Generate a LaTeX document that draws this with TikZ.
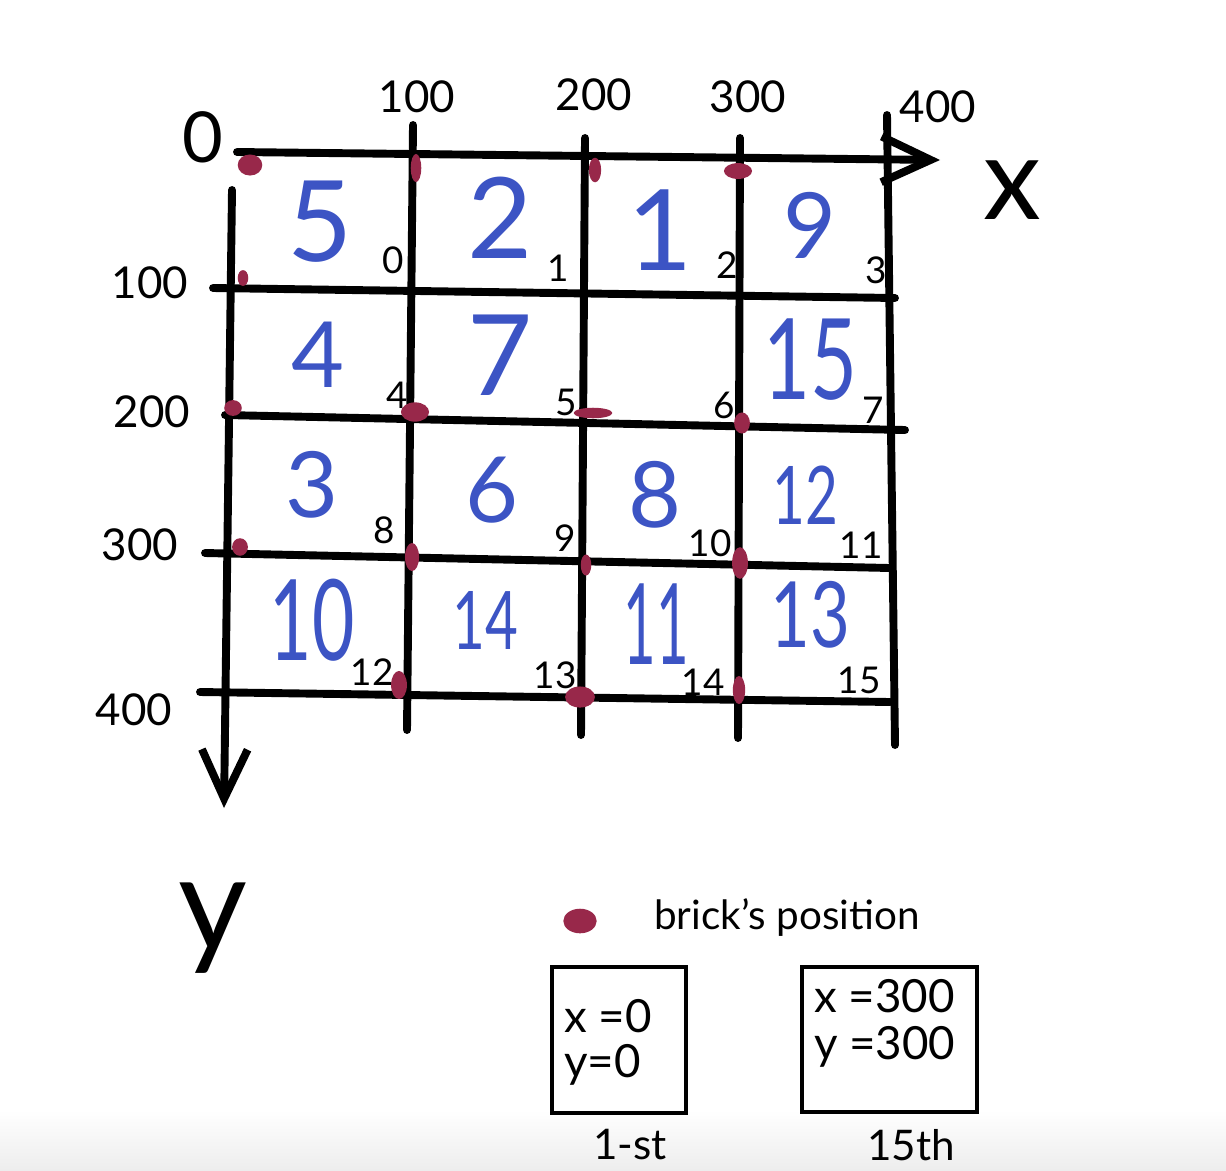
\documentclass[tikz,border=0pt]{standalone}
\usepackage{fontspec}
\setmainfont{Lato}
\usetikzlibrary{arrows.meta}
\definecolor{brickred}{RGB}{152,40,74}
\definecolor{numblue}{RGB}{60,84,196}
% narrower glyphs for the two-digit tiles
\newcommand{\slim}[2]{\scalebox{#1}[1]{#2}}

\begin{document}
\begin{tikzpicture}[x=0.02cm,y=-0.02cm,
        gridline/.style={line width=4.5pt, line cap=round},
        axisarrow/.style={gridline, -{Straight Barb[length=28pt,width=26pt]}},
        bignum/.style={text=numblue, inner sep=0pt, font=\fontsize{64}{64}\selectfont},
        midnum/.style={text=numblue, inner sep=0pt, font=\fontsize{52}{52}\selectfont},
        smallnum/.style={text=numblue, inner sep=0pt, font=\fontsize{46}{46}\selectfont},
        idx/.style={inner sep=1pt, font=\fontsize{21}{21}\selectfont},
        axlabel/.style={font=\fontsize{25}{25}\selectfont},
        brick/.style={fill=brickred},
        legendbox/.style={draw, line width=1.8pt},
        boxtext/.style={font=\fontsize{26}{26}\selectfont, anchor=west}]
        \useasboundingbox (0,0) rectangle (1226,1170);
        \shade[top color=white, bottom color=black!7] (0,1110) rectangle (1226,1170);

        % axes
        \draw[axisarrow] (237,152) -- (940,160);
        \draw[axisarrow] (232,190) -- (224,808);
        % rows
        \draw[gridline] (213,288) -- (895,298);
        \draw[gridline] (225,415) -- (905,430);
        \draw[gridline] (205,553) -- (890,568);
        \draw[gridline] (200,692) -- (890,702);
        % columns
        \draw[gridline] (413,125) -- (407,730);
        \draw[gridline] (585,138) -- (581,735);
        \draw[gridline] (740,138) -- (738,738);
        \draw[gridline] (887,115) -- (895,745);

        % axis labels
        \node[font=\fontsize{40}{40}\selectfont] (origin) at (203,137) {0};
        \node[axlabel] (xa) at (417,97) {100};
        \node[axlabel] (xb) at (594,95) {200};
        \node[axlabel] (xc) at (748,97) {300};
        \node[axlabel] (xd) at (938,107) {400};
        \node[axlabel] (ya) at (150,283) {100};
        \node[axlabel] (yb) at (152,412) {200};
        \node[axlabel] (yc) at (140,545) {300};
        \node[axlabel] (yd) at (134,710) {400};
        \node[font=\fontsize{66}{66}\selectfont] (xname) at (1012,190) {x};
        \node[font=\fontsize{76}{76}\selectfont] (yname) at (213,928) {y};

        % tiles
        \node[bignum] (t0) at (320,222) {5};
        \node[bignum] (t1) at (500,218) {2};
        \node[bignum] (t2) at (660,230) {1};
        \node[midnum] (t3) at (810,225) {9};
        \node[midnum] (t4) at (318,355) {4};
        \node[bignum] (t5) at (500,355) {7};
        \node[bignum] (t7) at (810,360) {\slim{0.72}{15}};
        \node[midnum] (t8) at (312,485) {3};
        \node[midnum] (t9) at (492,490) {6};
        \node[midnum] (t10) at (655,495) {8};
        \node[smallnum] (t11) at (805,495) {\slim{0.7}{12}};
        \node[bignum] (t12) at (312,620) {\slim{0.65}{10}};
        \node[smallnum] (t13) at (485,620) {\slim{0.7}{14}};
        \node[bignum] (t14) at (656,624) {\slim{0.5}{11}};
        \node[midnum] (t15) at (810,615) {\slim{0.75}{13}};

        % indices
        \node[idx] (i0) at (393,260) {0};
        \node[idx] (i1) at (558,268) {1};
        \node[idx] (i2) at (727,265) {2};
        \node[idx] (i3) at (876,270) {3};
        \node[idx] (i4) at (397,395) {4};
        \node[idx] (i5) at (566,402) {5};
        \node[idx] (i6) at (724,405) {6};
        \node[idx] (i7) at (873,410) {7};
        \node[idx] (i8) at (384,530) {8};
        \node[idx] (i9) at (565,538) {9};
        \node[idx] (i10) at (710,543) {10};
        \node[idx] (i11) at (861,545) {11};
        \node[idx] (i12) at (372,672) {12};
        \node[idx] (i13) at (555,675) {13};
        \node[idx] (i14) at (703,682) {14};
        \node[idx] (i15) at (859,680) {15};

        % brick positions
        \fill[brick] (250,165) ellipse (7pt and 6pt);
        \fill[brick] (416,168) ellipse (3pt and 8pt);
        \fill[brick] (595,170) ellipse (3.5pt and 7pt);
        \fill[brick] (738,171) ellipse (8pt and 4.5pt);
        \fill[brick] (243,278) ellipse (3pt and 4.5pt);
        \fill[brick] (233,408) ellipse (5pt and 4.5pt);
        \fill[brick] (415,412) ellipse (8pt and 5.5pt);
        \fill[brick] (593,413) ellipse (11pt and 3pt);
        \fill[brick] (742,423) ellipse (4.5pt and 6pt);
        \fill[brick] (240,547) ellipse (4.5pt and 5pt);
        \fill[brick] (412,557) ellipse (4pt and 8pt);
        \fill[brick] (586,565) ellipse (3pt and 6pt);
        \fill[brick] (740,563) ellipse (4.5pt and 9pt);
        \fill[brick] (399,685) ellipse (4.5pt and 8pt);
        \fill[brick] (580,697) ellipse (8.5pt and 6pt);
        \fill[brick] (739,690) ellipse (3.5pt and 8pt);

        % legend
        \fill[brick] (580,921) ellipse (9.5pt and 7pt);
        \node[font=\fontsize{23}{23}\selectfont] (legend) at (787,918) {brick's position};
        \draw[legendbox] (552,967) rectangle (686,1113);
        \node[boxtext] (fx) at (558,1016) {x =0};
        \node[boxtext] (fy) at (558,1065) {y=0};
        \node[font=\fontsize{24}{24}\selectfont] (first) at (630,1145) {1-st};
        \draw[legendbox] (802,967) rectangle (977,1112);
        \node[boxtext] (lx) at (808,996) {x =300};
        \node[boxtext] (ly) at (808,1047) {y =300};
        \node[font=\fontsize{24}{24}\selectfont] (last) at (911,1145) {15th};
    \end{tikzpicture}
\end{document}
